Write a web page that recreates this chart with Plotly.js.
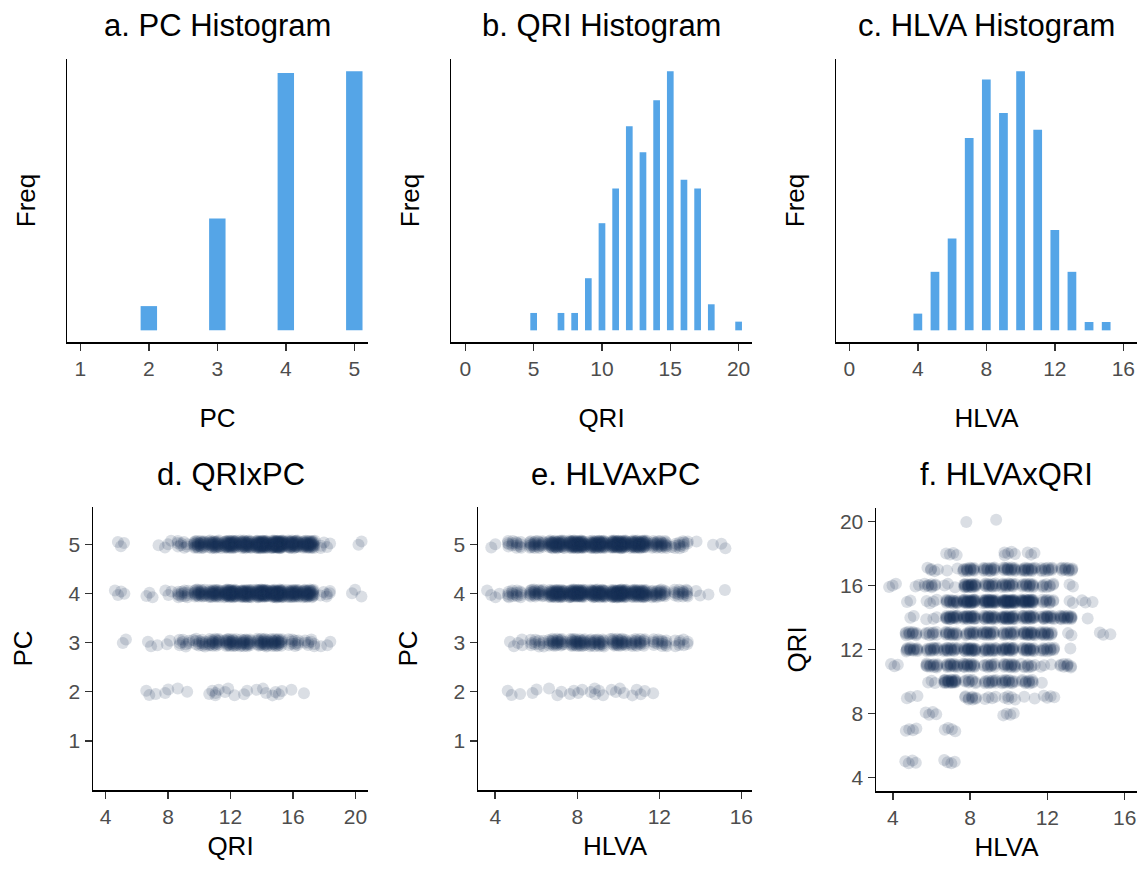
<!DOCTYPE html>
<html>
<head>
<meta charset="utf-8">
<script src="https://cdn.plot.ly/plotly-3.0.1.min.js"></script>
<style>
  html, body { margin: 0; padding: 0; background: #ffffff; }
  #chart { width: 1144px; height: 880px; }
</style>
</head>
<body>
<div id="chart"></div>
<script>
// ---- Frequencies for the three histograms ----
const pcLevels = [2, 3, 4, 5];
const pcFreq = [39, 180, 414, 417];

const qriLevels = [5, 7, 8, 9, 10, 11, 12, 13, 14, 15, 16, 17, 18, 20];
const qriFreq = [12, 12, 12, 36, 74, 98, 141, 123, 159, 179, 104, 98, 18, 6];

const hlvaLevels = [4, 5, 6, 7, 8, 9, 10, 11, 12, 13, 14, 15];
const hlvaFreq = [12, 42, 66, 138, 180, 156, 186, 144, 72, 42, 6, 6];

// ---- Joint counts behind the jittered scatter panels ----
const pcRows = [2, 3, 4, 5];
const qriCols = [5, 6, 7, 8, 9, 10, 11, 12, 13, 14, 15, 16, 17, 18, 19, 20];
// respondents per (PC, QRI)
const qriByPc = [
  [0, 0, 3, 2, 2, 0, 5, 3, 2, 3, 4, 1, 1, 0, 0, 0],
  [2, 0, 3, 2, 9, 14, 21, 27, 24, 26, 27, 11, 8, 3, 0, 0],
  [4, 0, 3, 3, 14, 27, 36, 57, 50, 60, 63, 42, 39, 6, 0, 3],
  [3, 0, 1, 3, 9, 29, 35, 51, 44, 66, 75, 45, 45, 5, 0, 2]
];

const hlvaCols = [4, 5, 6, 7, 8, 9, 10, 11, 12, 13, 14, 15];
// respondents per (PC, HLVA)
const hlvaByPc = [
  [0, 3, 2, 3, 4, 5, 4, 4, 1, 0, 0, 0],
  [0, 5, 12, 27, 33, 27, 29, 21, 15, 9, 0, 0],
  [4, 16, 26, 56, 69, 60, 75, 56, 27, 18, 3, 1],
  [2, 15, 26, 53, 75, 63, 74, 62, 29, 14, 1, 3]
];

const qriRows = [5, 7, 8, 9, 10, 11, 12, 13, 14, 15, 16, 17, 18, 20];
// respondents per (QRI, HLVA)
const hlvaByQri = [
  [0, 4, 0, 4, 0, 0, 0, 0, 0, 0, 0, 0],
  [0, 4, 0, 4, 0, 0, 0, 0, 0, 0, 0, 0],
  [0, 0, 4, 0, 0, 0, 4, 0, 0, 0, 0, 0],
  [0, 3, 0, 0, 9, 4, 5, 2, 4, 0, 0, 0],
  [0, 0, 3, 23, 9, 12, 14, 11, 1, 0, 0, 0],
  [3, 0, 14, 15, 17, 11, 15, 9, 3, 9, 0, 0],
  [0, 15, 14, 18, 23, 18, 21, 18, 14, 1, 0, 0],
  [0, 12, 9, 15, 14, 17, 15, 20, 15, 2, 0, 3],
  [0, 2, 3, 21, 24, 21, 27, 21, 18, 18, 1, 0],
  [0, 2, 4, 17, 30, 33, 39, 33, 11, 2, 3, 0],
  [3, 2, 9, 3, 24, 15, 17, 15, 9, 2, 0, 0],
  [0, 0, 5, 2, 15, 15, 17, 17, 12, 12, 0, 0],
  [0, 0, 0, 4, 0, 0, 5, 3, 0, 0, 0, 0],
  [0, 0, 0, 0, 1, 1, 0, 0, 0, 0, 0, 0]
];

// ---- Tick labels ----
const pcTicks = [1, 2, 3, 4, 5];
const qriHistTicks = [0, 5, 10, 15, 20];
const hlvaHistTicks = [0, 4, 8, 12, 16];
const qriTicks = [4, 8, 12, 16, 20];
const hlvaTicks = [4, 8, 12, 16];

const panelTitles = ['a. PC Histogram', 'b. QRI Histogram', 'c. HLVA Histogram',
                     'd. QRIxPC', 'e. HLVAxPC', 'f. HLVAxQRI'];

// ---- Styling ----
const W = 1144, H = 880;
const FONT = 'Liberation Sans, Arial, sans-serif';
const BAR_COLOR = '#55A5E7';
const DOT_COLOR = '#1B3454';

// Expand a count table into one point per respondent, spread around the
// integer cell centre the way a jitter layer does (low-discrepancy offsets).
function jitterPoints(rows, cols, table, wx, wy) {
  const xs = [], ys = [];
  let k = 0;
  for (let r = 0; r < rows.length; r++) {
    for (let c = 0; c < cols.length; c++) {
      for (let n = 0; n < table[r][c]; n++) {
        k++;
        const u = (0.5 + k * 0.7548776662) % 1;
        const v = (0.5 + k * 0.5698402910) % 1;
        xs.push(cols[c] + (2 * u - 1) * wx);
        ys.push(rows[r] + (2 * v - 1) * wy);
      }
    }
  }
  return { x: xs, y: ys };
}

const pQriPc = jitterPoints(pcRows, qriCols, qriByPc, 0.4, 0.08);
const pHlvaPc = jitterPoints(pcRows, hlvaCols, hlvaByPc, 0.4, 0.08);
const pHlvaQri = jitterPoints(qriRows, hlvaCols, hlvaByQri, 0.36, 0.12);

const dotMarker = { size: 12, color: DOT_COLOR, opacity: 0.16, line: { width: 0 } };

const data = [
  { type: 'bar', x: pcLevels, y: pcFreq, width: 0.24, marker: { color: BAR_COLOR }, xaxis: 'x', yaxis: 'y', hoverinfo: 'x+y' },
  { type: 'bar', x: qriLevels, y: qriFreq, width: 0.49, marker: { color: BAR_COLOR }, xaxis: 'x2', yaxis: 'y2', hoverinfo: 'x+y' },
  { type: 'bar', x: hlvaLevels, y: hlvaFreq, width: 0.51, marker: { color: BAR_COLOR }, xaxis: 'x3', yaxis: 'y3', hoverinfo: 'x+y' },
  { type: 'scatter', mode: 'markers', x: pQriPc.x, y: pQriPc.y, marker: dotMarker, xaxis: 'x4', yaxis: 'y4' },
  { type: 'scatter', mode: 'markers', x: pHlvaPc.x, y: pHlvaPc.y, marker: dotMarker, xaxis: 'x5', yaxis: 'y5' },
  { type: 'scatter', mode: 'markers', x: pHlvaQri.x, y: pHlvaQri.y, marker: dotMarker, xaxis: 'x6', yaxis: 'y6' }
];

// panel boxes in pixels: [left, right, top, bottom]
const boxes = [
  [67, 368, 59, 342],
  [451, 752, 59, 342],
  [836, 1137, 59, 342],
  [93, 368, 507, 790],
  [478, 752, 507, 790],
  [876, 1137, 508, 791]
];
const xd = b => [b[0] / W, b[1] / W];
const yd = b => [1 - b[3] / H, 1 - b[2] / H];

const axisBase = {
  showgrid: false, zeroline: false, showline: true,
  linecolor: '#000000', linewidth: 1.5,
  ticks: 'outside', ticklen: 7, tickwidth: 1.5, tickcolor: '#333333',
  tickfont: { family: FONT, size: 21, color: '#4D4D4D' },
  fixedrange: true
};
const axTitle = (t, s) => ({ text: t, font: { family: FONT, size: 26, color: '#000000' }, standoff: s });

const maxOf = a => Math.max.apply(null, a);
const freqRange = a => [-0.045 * maxOf(a), 1.047 * maxOf(a)];

const histY = (i, freq) => Object.assign({}, axisBase, {
  domain: yd(boxes[i]), range: freqRange(freq), ticks: '', showticklabels: false,
  title: axTitle('Freq', 22)
});

const layout = {
  width: W, height: H,
  margin: { l: 0, r: 0, t: 0, b: 0 },
  paper_bgcolor: '#ffffff', plot_bgcolor: '#ffffff',
  showlegend: false,
  font: { family: FONT },
  xaxis: Object.assign({}, axisBase, { domain: xd(boxes[0]), anchor: 'y', range: [0.805, 5.2], tickvals: pcTicks, title: axTitle('PC', 30) }),
  yaxis: Object.assign(histY(0, pcFreq), { anchor: 'x' }),
  xaxis2: Object.assign({}, axisBase, { domain: xd(boxes[1]), anchor: 'y2', range: [-1.05, 20.98], tickvals: qriHistTicks, title: axTitle('QRI', 30) }),
  yaxis2: Object.assign(histY(1, qriFreq), { anchor: 'x2' }),
  xaxis3: Object.assign({}, axisBase, { domain: xd(boxes[2]), anchor: 'y3', range: [-0.78, 16.8], tickvals: hlvaHistTicks, title: axTitle('HLVA', 30) }),
  yaxis3: Object.assign(histY(2, hlvaFreq), { anchor: 'x3' }),
  xaxis4: Object.assign({}, axisBase, { domain: xd(boxes[3]), anchor: 'y4', range: [3.2, 20.8], tickvals: qriTicks, title: axTitle('QRI', 10) }),
  yaxis4: Object.assign({}, axisBase, { domain: yd(boxes[3]), anchor: 'x4', range: [0, 5.76], tickvals: pcTicks, title: axTitle('PC', 28) }),
  xaxis5: Object.assign({}, axisBase, { domain: xd(boxes[4]), anchor: 'y5', range: [3.16, 16.52], tickvals: hlvaTicks, title: axTitle('HLVA', 10) }),
  yaxis5: Object.assign({}, axisBase, { domain: yd(boxes[4]), anchor: 'x5', range: [0, 5.76], tickvals: pcTicks, title: axTitle('PC', 28) }),
  xaxis6: Object.assign({}, axisBase, { domain: xd(boxes[5]), anchor: 'y6', range: [3.13, 16.64], tickvals: hlvaTicks, title: axTitle('HLVA', 10) }),
  yaxis6: Object.assign({}, axisBase, { domain: yd(boxes[5]), anchor: 'x6', range: [3.17, 20.83], tickvals: qriTicks, title: axTitle('QRI', 26) }),
  annotations: panelTitles.map((t, i) => ({
    text: t, xref: 'paper', yref: 'paper',
    x: (boxes[i][0] + boxes[i][1]) / 2 / W,
    y: 1 - (i < 3 ? 26 : 474) / H,
    xanchor: 'center', yanchor: 'middle', showarrow: false,
    font: { family: FONT, size: 31, color: '#000000' }
  }))
};

Plotly.newPlot('chart', data, layout, { displayModeBar: false, staticPlot: true });
</script>
</body>
</html>
